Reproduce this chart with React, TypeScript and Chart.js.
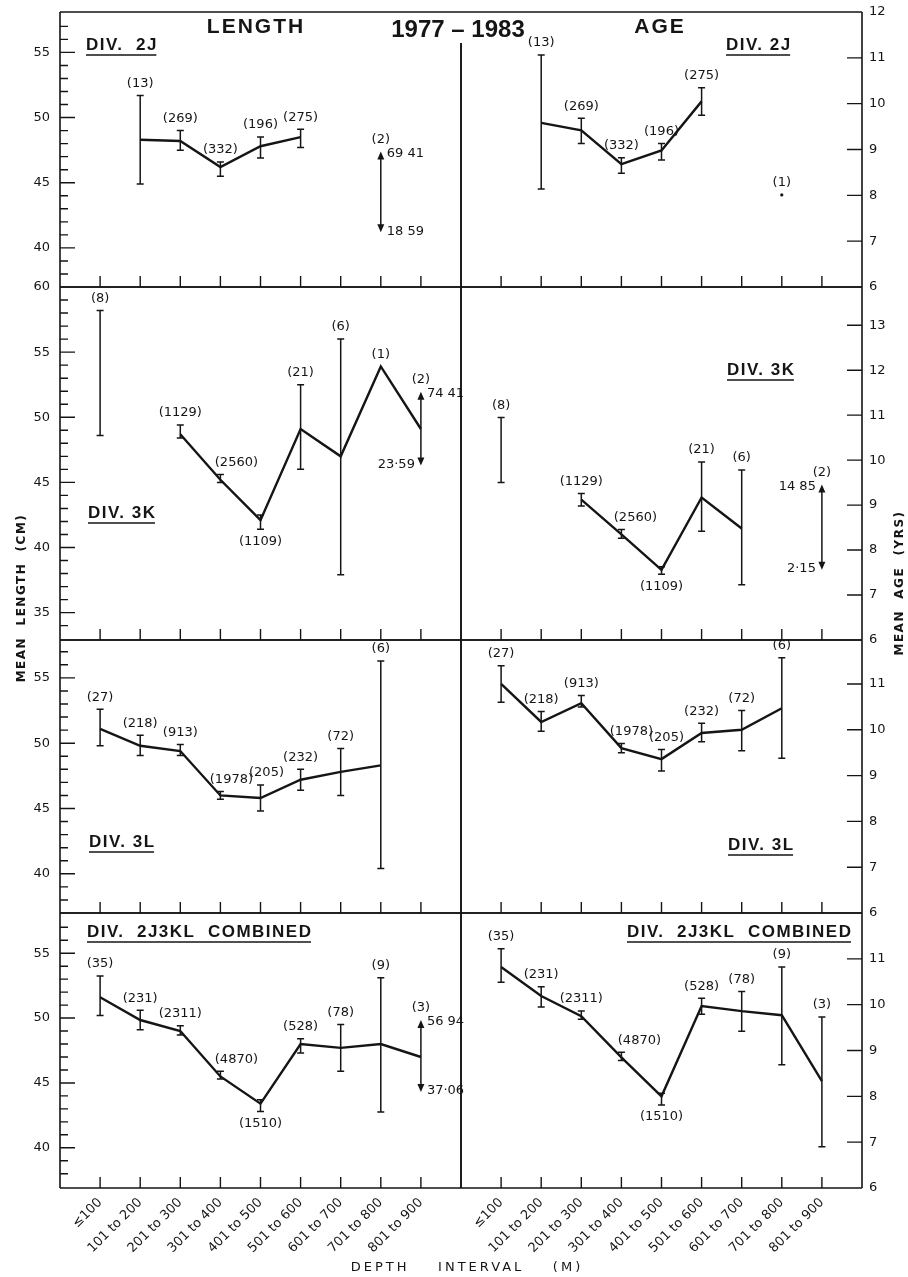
import React, { useEffect, useRef } from 'react';
import { Chart, registerables } from 'chart.js';

Chart.register(...registerables);

const W = 908;
const H = 1277;
const INK = '#151515';
const SANS = '"DejaVu Sans", "Liberation Sans", sans-serif';
const BOLD = '"Liberation Sans", "DejaVu Sans", sans-serif';

// ---------- categories ----------
const depthLabels = ['≤100', '101 to 200', '201 to 300', '301 to 400', '401 to 500', '501 to 600', '601 to 700', '701 to 800', '801 to 900'];

// ---------- DIV. 2J ----------
const len2J_mean = [null, 48.3, 48.2, 46.2, 47.8, 48.5, null, null, null];
const len2J_lo = [null, 44.9, 47.5, 45.5, 46.9, 47.7, null, 41.2, null];
const len2J_hi = [null, 51.7, 49.0, 46.6, 48.5, 49.1, null, 47.4, null];
const len2J_n = [null, '13', '269', '332', '196', '275', null, '2', null];
const len2J_arrowText = ['69 41', '18 59'];

const age2J_mean = [null, 9.58, 9.42, 8.68, 8.98, 10.05, null, 8.01, null];
const age2J_lo = [null, 8.14, 9.13, 8.48, 8.77, 9.75, null, null, null];
const age2J_hi = [null, 11.06, 9.68, 8.82, 9.13, 10.35, null, null, null];
const age2J_n = [null, '13', '269', '332', '196', '275', null, '1', null];

// ---------- DIV. 3K ----------
const len3K_mean = [null, null, 48.7, 45.2, 42.1, 49.1, 47.0, 53.9, 49.1];
const len3K_lo = [48.6, null, 48.4, 45.0, 41.4, 46.0, 37.9, null, 46.3];
const len3K_hi = [58.2, null, 49.4, 45.6, 42.5, 52.5, 56.0, null, 51.95];
const len3K_n = ['8', null, '1129', '2560', '1109', '21', '6', '1', '2'];
const len3K_arrowText = ['74 41', '23·59'];

const age3K_mean = [null, null, 9.12, 8.35, 7.56, 9.17, 8.48, null, null];
const age3K_lo = [9.5, null, 8.98, 8.26, 7.46, 8.42, 7.23, null, 7.56];
const age3K_hi = [10.95, null, 9.26, 8.46, 7.63, 9.96, 9.78, null, 9.46];
const age3K_n = ['8', null, '1129', '2560', '1109', '21', '6', null, '2'];
const age3K_arrowText = ['14 85', '2·15'];

// ---------- DIV. 3L ----------
const len3L_mean = [51.1, 49.8, 49.4, 46.0, 45.8, 47.2, 47.8, 48.3, null];
const len3L_lo = [49.8, 49.05, 49.05, 45.7, 44.8, 46.4, 46.0, 40.4, null];
const len3L_hi = [52.6, 50.6, 49.9, 46.3, 46.8, 48.0, 49.6, 56.3, null];
const len3L_n = ['27', '218', '913', '1978', '205', '232', '72', '6', null];

const age3L_mean = [11.0, 10.17, 10.58, 9.6, 9.36, 9.93, 10.0, 10.47, null];
const age3L_lo = [10.6, 9.97, 10.5, 9.5, 9.1, 9.74, 9.54, 9.38, null];
const age3L_hi = [11.4, 10.4, 10.75, 9.7, 9.57, 10.14, 10.42, 11.57, null];
const age3L_n = ['27', '218', '913', '1978', '205', '232', '72', '6', null];

// ---------- DIV. 2J3KL COMBINED ----------
const lenAll_mean = [51.6, 49.85, 49.0, 45.5, 43.4, 48.0, 47.7, 48.0, 47.0];
const lenAll_lo = [50.2, 49.1, 48.7, 45.3, 42.8, 47.3, 45.9, 42.75, 44.3];
const lenAll_hi = [53.25, 50.6, 49.4, 45.9, 43.7, 48.4, 49.5, 53.1, 49.85];
const lenAll_n = ['35', '231', '2311', '4870', '1510', '528', '78', '9', '3'];
const lenAll_arrowText = ['56 94', '37·06'];

const ageAll_mean = [10.82, 10.19, 9.75, 8.85, 8.0, 9.97, 9.86, 9.77, 8.33];
const ageAll_lo = [10.49, 9.95, 9.68, 8.78, 7.81, 9.79, 9.42, 8.69, 6.9];
const ageAll_hi = [11.22, 10.39, 9.86, 8.96, 8.07, 10.14, 10.29, 10.82, 9.73];
const ageAll_n = ['35', '231', '2311', '4870', '1510', '528', '78', '9', '3'];

// ---------- tick labels ----------
const lenTicks = [40, 45, 50, 55];
const lenTicks3K = [35, 40, 45, 50, 55, 60];
const ageTicks2J = [6, 7, 8, 9, 10, 11, 12];
const ageTicks3K = [6, 7, 8, 9, 10, 11, 12, 13];
const ageTicks3L = [6, 7, 8, 9, 10, 11];

// ---------- layout (pixels) ----------
const COLS: [number, number][] = [[60, 461], [461, 862]];
const ROWS: [number, number][] = [[12, 287], [287, 640], [640, 913], [913, 1188]];

type Num = number | null;
type Panel = {
  col: number;
  row: number;
  mean: Num[];
  lo: Num[];
  hi: Num[];
  n: (string | null)[];
  yMin: number;
  yMax: number;
  yTicks: number[];
  arrowAt?: number;
  arrowText?: string[];
  arrowSide?: ('left' | 'right')[];
  div: string;
  divX: number;
  divY: number;
  below?: number[];
  shift?: Record<number, number>;
  extras?: boolean;
};

const panels: Panel[] = [
  {
    col: 0, row: 0, mean: len2J_mean, lo: len2J_lo, hi: len2J_hi, n: len2J_n,
    yMin: 37, yMax: 58.1, yTicks: lenTicks,
    arrowAt: 7, arrowText: len2J_arrowText, arrowSide: ['right', 'right'],
    div: 'DIV.  2J', divX: 86, divY: 45, extras: true,
  },
  {
    col: 1, row: 0, mean: age2J_mean, lo: age2J_lo, hi: age2J_hi, n: age2J_n,
    yMin: 6, yMax: 12, yTicks: ageTicks2J,
    div: 'DIV. 2J', divX: 726, divY: 45,
  },
  {
    col: 0, row: 1, mean: len3K_mean, lo: len3K_lo, hi: len3K_hi, n: len3K_n,
    yMin: 32.9, yMax: 60, yTicks: lenTicks3K,
    arrowAt: 8, arrowText: len3K_arrowText, arrowSide: ['right', 'left'],
    div: 'DIV. 3K', divX: 88, divY: 513, below: [4], shift: { 3: 16 },
  },
  {
    col: 1, row: 1, mean: age3K_mean, lo: age3K_lo, hi: age3K_hi, n: age3K_n,
    yMin: 6, yMax: 13.85, yTicks: ageTicks3K,
    arrowAt: 8, arrowText: age3K_arrowText, arrowSide: ['left', 'left'],
    div: 'DIV. 3K', divX: 727, divY: 370, below: [4], shift: { 3: 14 },
  },
  {
    col: 0, row: 2, mean: len3L_mean, lo: len3L_lo, hi: len3L_hi, n: len3L_n,
    yMin: 37, yMax: 57.9, yTicks: lenTicks,
    div: 'DIV. 3L', divX: 89, divY: 842, shift: { 3: 11, 4: 6 },
  },
  {
    col: 1, row: 2, mean: age3L_mean, lo: age3L_lo, hi: age3L_hi, n: age3L_n,
    yMin: 6, yMax: 11.96, yTicks: ageTicks3L,
    div: 'DIV. 3L', divX: 728, divY: 845, shift: { 3: 10, 4: 5 },
  },
  {
    col: 0, row: 3, mean: lenAll_mean, lo: lenAll_lo, hi: lenAll_hi, n: lenAll_n,
    yMin: 36.9, yMax: 58.1, yTicks: lenTicks,
    arrowAt: 8, arrowText: lenAll_arrowText, arrowSide: ['right', 'right'],
    div: 'DIV.  2J3KL  COMBINED', divX: 87, divY: 932, below: [4], shift: { 3: 16 },
  },
  {
    col: 1, row: 3, mean: ageAll_mean, lo: ageAll_lo, hi: ageAll_hi, n: ageAll_n,
    yMin: 6, yMax: 12, yTicks: ageTicks3L,
    div: 'DIV.  2J3KL  COMBINED', divX: 627, divY: 932, below: [4], shift: { 3: 18 },
  },
];

function spacedText(ctx: CanvasRenderingContext2D, txt: string, x: number, y: number, spacing: string) {
  (ctx as any).letterSpacing = spacing;
  ctx.fillText(txt, x, y);
  (ctx as any).letterSpacing = '0px';
}

function drawExtras(ctx: CanvasRenderingContext2D) {
  ctx.save();
  ctx.fillStyle = INK;
  ctx.textBaseline = 'middle';
  ctx.textAlign = 'center';
  ctx.font = `bold 21px ${BOLD}`;
  spacedText(ctx, 'LENGTH', 256, 27, '2px');
  spacedText(ctx, 'AGE', 660, 27, '2px');
  ctx.font = `bold 24px ${BOLD}`;
  spacedText(ctx, '1977 – 1983', 458, 30, '0px');

  ctx.font = `bold 12px ${SANS}`;
  ctx.save();
  ctx.translate(22, 598);
  ctx.rotate(-Math.PI / 2);
  spacedText(ctx, 'MEAN  LENGTH  (CM)', 0, 0, '1.5px');
  ctx.restore();
  ctx.save();
  ctx.translate(900, 583);
  ctx.rotate(-Math.PI / 2);
  spacedText(ctx, 'MEAN  AGE  (YRS)', 0, 0, '1.5px');
  ctx.restore();

  ctx.font = `13px ${SANS}`;
  spacedText(ctx, 'DEPTH    INTERVAL    (M)', 467, 1268, '3px');
  ctx.restore();
}

function makePlugin(p: Panel) {
  return {
    id: 'panelDecor',
    afterDatasetsDraw(chart: any) {
      const ctx: CanvasRenderingContext2D = chart.ctx;
      const xs = chart.scales.x;
      const ys = chart.scales.y;
      const { left, right, top, bottom } = chart.chartArea;
      const isLeft = p.col === 0;
      ctx.save();
      ctx.strokeStyle = INK;
      ctx.fillStyle = INK;

      // frame
      const innerTop = p.row === 0 ? 43 : top;
      ctx.lineWidth = 1.6;
      ctx.beginPath();
      ctx.moveTo(left, top); ctx.lineTo(right, top);
      ctx.moveTo(left, bottom); ctx.lineTo(right, bottom);
      if (isLeft) {
        ctx.moveTo(left, top); ctx.lineTo(left, bottom);
        ctx.moveTo(right, innerTop); ctx.lineTo(right, bottom);
      } else {
        ctx.moveTo(left, innerTop); ctx.lineTo(left, bottom);
        ctx.moveTo(right, top); ctx.lineTo(right, bottom);
      }
      ctx.stroke();

      // x ticks (inside, pointing up)
      ctx.lineWidth = 1.4;
      ctx.beginPath();
      for (let i = 0; i < depthLabels.length; i++) {
        const x = xs.getPixelForValue(i);
        ctx.moveTo(x, bottom);
        ctx.lineTo(x, bottom - 11);
      }
      // y ticks (inside)
      for (let v = Math.ceil(p.yMin); v <= Math.floor(p.yMax); v++) {
        const y = ys.getPixelForValue(v);
        if (y < top + 2 || y > bottom - 2) continue;
        if (isLeft) {
          const len = v % 5 === 0 ? 15 : 8;
          ctx.moveTo(left, y); ctx.lineTo(left + len, y);
        } else {
          ctx.moveTo(right, y); ctx.lineTo(right - 15, y);
        }
      }
      ctx.stroke();

      // error bars and arrows
      ctx.lineWidth = 1.5;
      for (let i = 0; i < p.mean.length; i++) {
        const lo = p.lo[i];
        const hi = p.hi[i];
        if (lo == null || hi == null) continue;
        const x = xs.getPixelForValue(i);
        const yl = ys.getPixelForValue(lo);
        const yh = ys.getPixelForValue(hi);
        if (p.arrowAt === i) {
          ctx.beginPath();
          ctx.moveTo(x, yh + 4); ctx.lineTo(x, yl - 4);
          ctx.stroke();
          ctx.beginPath();
          ctx.moveTo(x, yh); ctx.lineTo(x - 3.5, yh + 8); ctx.lineTo(x + 3.5, yh + 8); ctx.closePath();
          ctx.moveTo(x, yl); ctx.lineTo(x - 3.5, yl - 8); ctx.lineTo(x + 3.5, yl - 8); ctx.closePath();
          ctx.fill();
        } else {
          ctx.beginPath();
          ctx.moveTo(x, yh); ctx.lineTo(x, yl);
          ctx.moveTo(x - 3.5, yh); ctx.lineTo(x + 3.5, yh);
          ctx.moveTo(x - 3.5, yl); ctx.lineTo(x + 3.5, yl);
          ctx.stroke();
        }
      }

      // count labels
      ctx.font = `13px ${SANS}`;
      ctx.textAlign = 'center';
      ctx.textBaseline = 'middle';
      for (let i = 0; i < p.n.length; i++) {
        const lab = p.n[i];
        if (lab == null) continue;
        const x = xs.getPixelForValue(i) + ((p.shift && p.shift[i]) || 0);
        let y: number;
        if (p.below && p.below.includes(i)) {
          const ref = p.lo[i] ?? p.mean[i];
          y = ys.getPixelForValue(ref as number) + 12;
        } else {
          const ref = p.hi[i] ?? p.mean[i];
          y = ys.getPixelForValue(ref as number) - 12;
        }
        ctx.fillText(`(${lab})`, x, y);
      }

      // arrow value labels
      if (p.arrowAt != null && p.arrowText && p.arrowSide) {
        const i = p.arrowAt;
        const x = xs.getPixelForValue(i);
        const ends = [p.hi[i] as number, p.lo[i] as number];
        for (let k = 0; k < 2; k++) {
          const y = ys.getPixelForValue(ends[k]) + (k === 0 ? 2 : -1);
          if (p.arrowSide[k] === 'right') {
            ctx.textAlign = 'left';
            ctx.fillText(p.arrowText[k], x + 6, y);
          } else {
            ctx.textAlign = 'right';
            ctx.fillText(p.arrowText[k], x - 6, y);
          }
        }
      }

      // division label, underlined
      ctx.font = `bold 17px ${BOLD}`;
      ctx.textAlign = 'left';
      ctx.textBaseline = 'middle';
      (ctx as any).letterSpacing = '1.5px';
      ctx.fillText(p.div, p.divX, p.divY);
      const w = ctx.measureText(p.div).width;
      (ctx as any).letterSpacing = '0px';
      ctx.lineWidth = 1.6;
      ctx.beginPath();
      ctx.moveTo(p.divX, p.divY + 10);
      ctx.lineTo(p.divX + w - 1.5, p.divY + 10);
      ctx.stroke();

      if (p.extras) drawExtras(ctx);
      ctx.restore();
    },
  };
}

function zeroPad(s: any) {
  s.paddingTop = 0;
  s.paddingBottom = 0;
  s.paddingLeft = 0;
  s.paddingRight = 0;
}

function buildConfig(p: Panel): any {
  const [x0, x1] = COLS[p.col];
  const [y0, y1] = ROWS[p.row];
  const isLeft = p.col === 0;
  const isBottom = p.row === 3;
  const yAxisW = isLeft ? x0 : W - x1;
  const xAxisH = isBottom ? H - y1 : 0;
  const radius = p.mean.map((v, i) =>
    v != null && (i === 0 || p.mean[i - 1] == null) && (i === p.mean.length - 1 || p.mean[i + 1] == null) ? 1.6 : 0
  );
  return {
    type: 'line',
    data: {
      datasets: [
        {
          data: p.mean.map((v, i) => ({ x: i, y: v })),
          borderColor: INK,
          backgroundColor: INK,
          borderWidth: 2.4,
          pointRadius: radius,
          pointBorderWidth: 0,
          pointBackgroundColor: INK,
          tension: 0,
          spanGaps: false,
          fill: false,
        },
      ],
    },
    options: {
      animation: false,
      responsive: false,
      maintainAspectRatio: false,
      events: [],
      layout: {
        padding: {
          left: isLeft ? 0 : x0,
          right: isLeft ? W - x1 : 0,
          top: y0,
          bottom: isBottom ? 0 : H - y1,
        },
      },
      plugins: { legend: { display: false }, tooltip: { enabled: false } },
      scales: {
        x: {
          type: 'linear',
          min: -1,
          max: 9,
          afterFit: (s: any) => { s.height = xAxisH; zeroPad(s); },
          afterBuildTicks: (s: any) => { s.ticks = depthLabels.map((_, i) => ({ value: i })); },
          grid: { display: false, drawTicks: false },
          border: { display: false },
          ticks: {
            display: isBottom,
            autoSkip: false,
            minRotation: 45,
            maxRotation: 45,
            padding: 7,
            color: INK,
            font: { family: SANS, size: 13 },
            callback: (v: any) => depthLabels[v as number] ?? '',
          },
        },
        y: {
          type: 'linear',
          position: isLeft ? 'left' : 'right',
          min: p.yMin,
          max: p.yMax,
          afterFit: (s: any) => { s.width = yAxisW; zeroPad(s); },
          afterBuildTicks: (s: any) => { s.ticks = p.yTicks.map((v) => ({ value: v })); },
          grid: { display: false, drawTicks: false },
          border: { display: false },
          ticks: {
            autoSkip: false,
            padding: isLeft ? 10 : 7,
            color: INK,
            font: { family: SANS, size: 13 },
          },
        },
      },
    },
    plugins: [makePlugin(p)],
  };
}

export default function App() {
  const refs = useRef<(HTMLCanvasElement | null)[]>([]);
  useEffect(() => {
    const charts = panels.map((p, k) => new Chart(refs.current[k] as HTMLCanvasElement, buildConfig(p)));
    return () => charts.forEach((c) => c.destroy());
  }, []);
  return (
    <div style={{ position: 'absolute', left: 0, top: 0, width: W, height: H, background: '#fff' }}>
      {panels.map((_, k) => (
        <canvas
          key={k}
          ref={(el) => { refs.current[k] = el; }}
          width={W}
          height={H}
          style={{ position: 'absolute', left: 0, top: 0, width: W, height: H }}
        />
      ))}
    </div>
  );
}
